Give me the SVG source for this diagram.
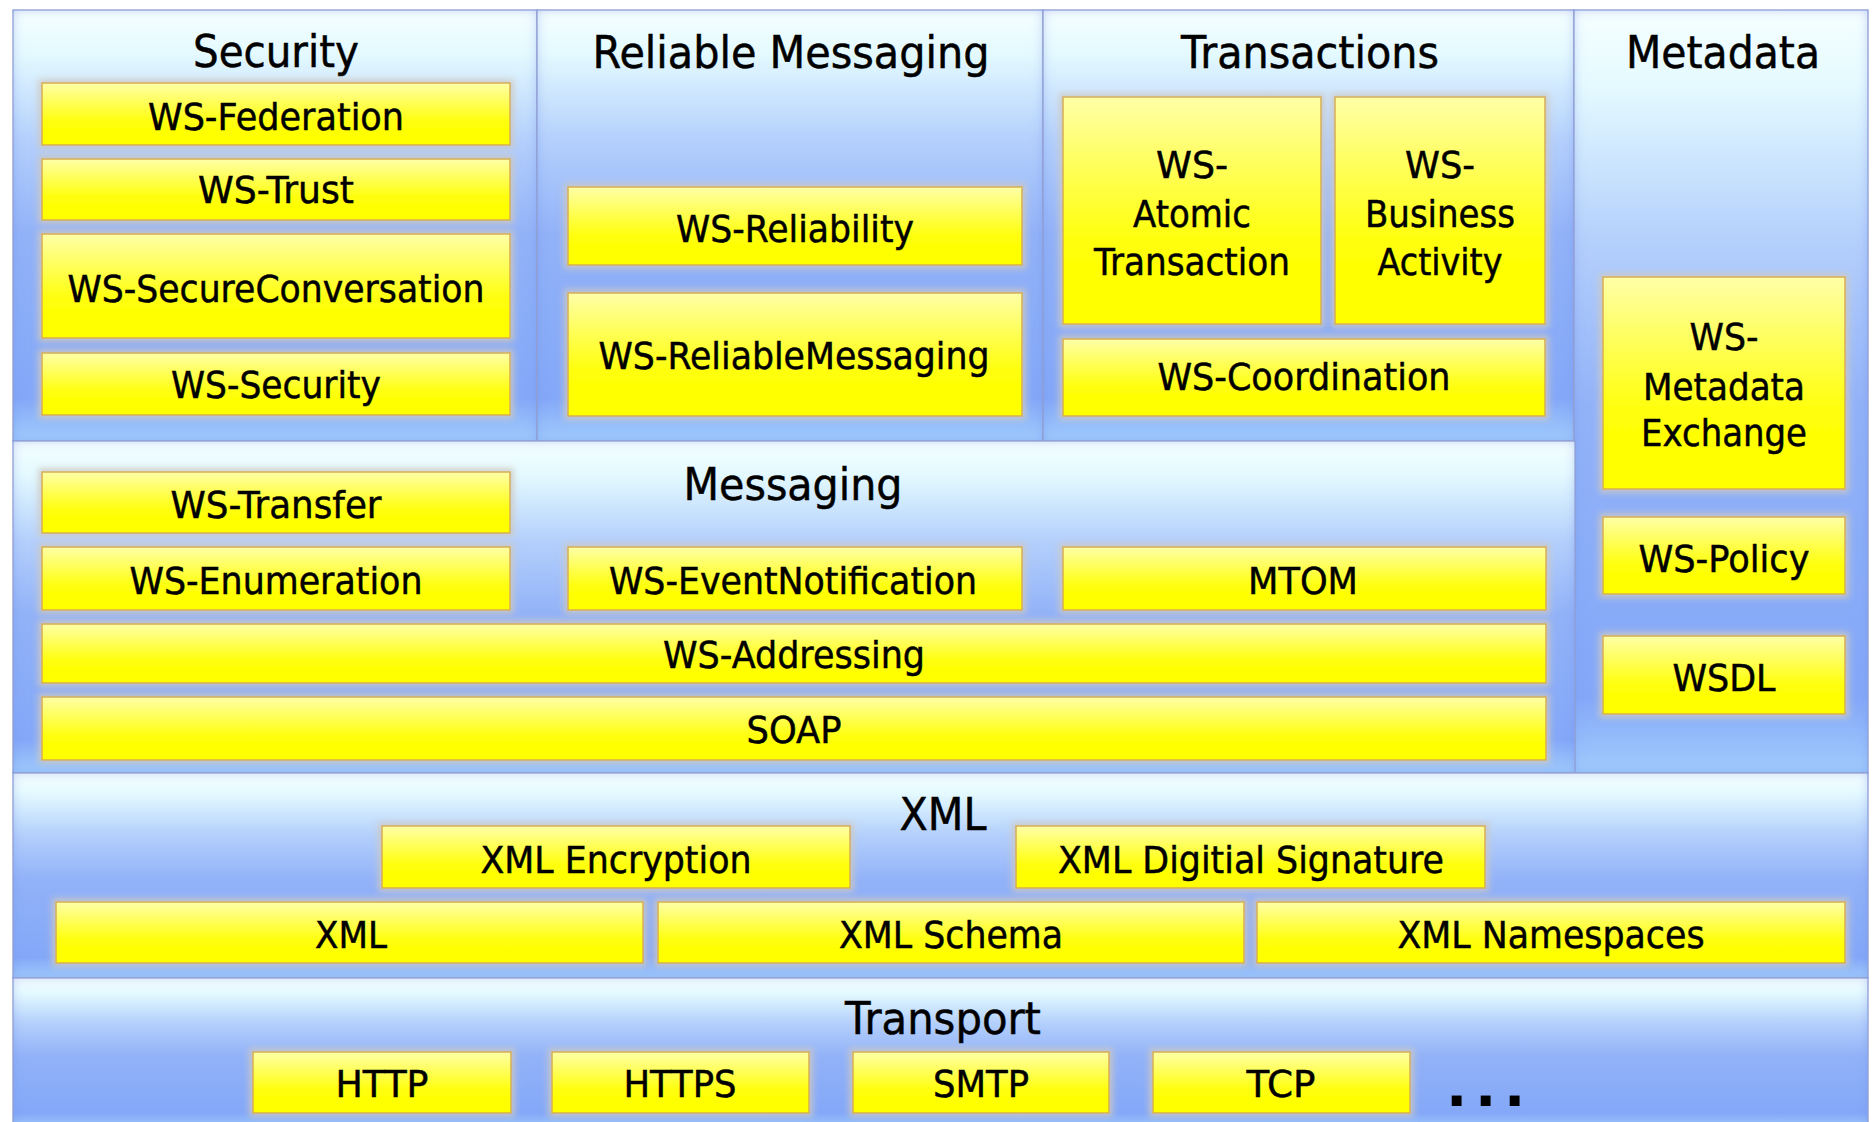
<svg xmlns="http://www.w3.org/2000/svg" width="1874" height="1122" viewBox="0 0 1874 1122">
<defs>
  <linearGradient id="panelGrad" x1="0" y1="0" x2="0" y2="1">
    <stop offset="0" stop-color="#f6ffff"/>
    <stop offset="0.1" stop-color="#e4faff"/>
    <stop offset="0.3" stop-color="#b4d0fc"/>
    <stop offset="0.52" stop-color="#92b2f8"/>
    <stop offset="0.9" stop-color="#84a8f8"/>
    <stop offset="1" stop-color="#a0ccfc"/>
  </linearGradient>
  <linearGradient id="boxGrad" x1="0" y1="0" x2="0" y2="1">
    <stop offset="0" stop-color="#ffffa8"/>
    <stop offset="0.38" stop-color="#ffff48"/>
    <stop offset="0.65" stop-color="#ffff08"/>
    <stop offset="1" stop-color="#ffff00"/>
  </linearGradient>
  <filter id="inner" x="-5%" y="-5%" width="110%" height="110%">
    <feFlood flood-color="#7494ee" flood-opacity="0.6"/>
    <feComposite in2="SourceAlpha" operator="out"/>
    <feGaussianBlur stdDeviation="6"/>
    <feComposite in2="SourceAlpha" operator="in" result="sh"/>
    <feMerge><feMergeNode in="SourceGraphic"/><feMergeNode in="sh"/></feMerge>
  </filter>
  <filter id="glow" x="-10%" y="-40%" width="120%" height="180%">
    <feMorphology in="SourceAlpha" operator="dilate" radius="3" result="d"/>
    <feGaussianBlur in="d" stdDeviation="3" result="b"/>
    <feFlood flood-color="#cfc9c0" flood-opacity="0.85"/>
    <feComposite in2="b" operator="in" result="g"/>
    <feMerge><feMergeNode in="g"/><feMergeNode in="SourceGraphic"/></feMerge>
  </filter>
</defs>
<style>
  .panel { fill: url(#panelGrad); stroke: #98a2c8; stroke-width: 1.2; filter: url(#inner); }
  .box { fill: url(#boxGrad); stroke: #d6ae52; stroke-width: 1.5; filter: url(#glow); }
  .t { font-family: "DejaVu Sans", "Liberation Sans", sans-serif; font-size: 38px; fill: #000; stroke: #000; stroke-width: 0.5; text-anchor: middle; }
  .h { font-family: "DejaVu Sans", "Liberation Sans", sans-serif; font-size: 44px; fill: #000; stroke: #000; stroke-width: 0.5; text-anchor: middle; }
  .dots { font-family: "DejaVu Sans", sans-serif; font-weight: bold; font-size: 56px; fill: #000; letter-spacing: 7.7px; }
</style>
<rect x="0" y="0" width="1874" height="1122" fill="#ffffff"/>

<!-- Panels -->
<g id="panel-security"><rect class="panel" x="13" y="10" width="524" height="431"/><text class="h" x="276" y="67" textLength="166" lengthAdjust="spacingAndGlyphs">Security</text></g>
<g id="panel-reliable"><rect class="panel" x="537" y="10" width="506" height="431"/><text class="h" x="791" y="68" textLength="397" lengthAdjust="spacingAndGlyphs">Reliable Messaging</text></g>
<g id="panel-transactions"><rect class="panel" x="1043" y="10" width="531" height="431"/><text class="h" x="1310" y="68" textLength="258" lengthAdjust="spacingAndGlyphs">Transactions</text></g>
<g id="panel-metadata"><rect class="panel" x="1574" y="10" width="294" height="763"/><text class="h" x="1723" y="68" textLength="194" lengthAdjust="spacingAndGlyphs">Metadata</text></g>
<g id="panel-messaging"><rect class="panel" x="13" y="441" width="1562" height="332"/><text class="h" x="793" y="500" textLength="219" lengthAdjust="spacingAndGlyphs">Messaging</text></g>
<g id="panel-xml"><rect class="panel" x="13" y="773" width="1855" height="205"/><text class="h" x="943" y="830" textLength="87" lengthAdjust="spacingAndGlyphs">XML</text></g>
<g id="panel-transport"><rect class="panel" x="13" y="978" width="1855" height="150"/><text class="h" x="943" y="1034" textLength="196" lengthAdjust="spacingAndGlyphs">Transport</text></g>

<!-- Security -->
<g id="ws-federation"><rect class="box" x="42" y="83" width="468" height="62"/><text class="t" x="276" y="130" textLength="256" lengthAdjust="spacingAndGlyphs">WS-Federation</text></g>
<g id="ws-trust"><rect class="box" x="42" y="159" width="468" height="61"/><text class="t" x="276" y="203" textLength="156" lengthAdjust="spacingAndGlyphs">WS-Trust</text></g>
<g id="ws-secureconversation"><rect class="box" x="42" y="234" width="468" height="104"/><text class="t" x="276" y="302" textLength="417" lengthAdjust="spacingAndGlyphs">WS-SecureConversation</text></g>
<g id="ws-security"><rect class="box" x="42" y="353" width="468" height="62"/><text class="t" x="276" y="398" textLength="210" lengthAdjust="spacingAndGlyphs">WS-Security</text></g>

<!-- Reliable Messaging -->
<g id="ws-reliability"><rect class="box" x="568" y="187" width="454" height="78"/><text class="t" x="795" y="242" textLength="238" lengthAdjust="spacingAndGlyphs">WS-Reliability</text></g>
<g id="ws-reliablemessaging"><rect class="box" x="568" y="293" width="454" height="123"/><text class="t" x="794" y="369" textLength="391" lengthAdjust="spacingAndGlyphs">WS-ReliableMessaging</text></g>

<!-- Transactions -->
<g id="ws-atomictransaction"><rect class="box" x="1063" y="97" width="258" height="227"/>
  <text class="t" x="1192" y="178" textLength="72" lengthAdjust="spacingAndGlyphs">WS-</text>
  <text class="t" x="1192" y="227" textLength="118" lengthAdjust="spacingAndGlyphs">Atomic</text>
  <text class="t" x="1192" y="275" textLength="196" lengthAdjust="spacingAndGlyphs">Transaction</text></g>
<g id="ws-businessactivity"><rect class="box" x="1335" y="97" width="210" height="227"/>
  <text class="t" x="1440" y="178" textLength="70" lengthAdjust="spacingAndGlyphs">WS-</text>
  <text class="t" x="1440" y="227" textLength="150" lengthAdjust="spacingAndGlyphs">Business</text>
  <text class="t" x="1440" y="275" textLength="125" lengthAdjust="spacingAndGlyphs">Activity</text></g>
<g id="ws-coordination"><rect class="box" x="1063" y="339" width="482" height="77"/><text class="t" x="1304" y="390" textLength="293" lengthAdjust="spacingAndGlyphs">WS-Coordination</text></g>

<!-- Metadata -->
<g id="ws-metadataexchange"><rect class="box" x="1603" y="277" width="242" height="212"/>
  <text class="t" x="1724" y="350" textLength="69" lengthAdjust="spacingAndGlyphs">WS-</text>
  <text class="t" x="1724" y="400" textLength="162" lengthAdjust="spacingAndGlyphs">Metadata</text>
  <text class="t" x="1724" y="446" textLength="166" lengthAdjust="spacingAndGlyphs">Exchange</text></g>
<g id="ws-policy"><rect class="box" x="1603" y="517" width="242" height="77"/><text class="t" x="1724" y="572" textLength="171" lengthAdjust="spacingAndGlyphs">WS-Policy</text></g>
<g id="wsdl"><rect class="box" x="1603" y="636" width="242" height="78"/><text class="t" x="1724" y="691" textLength="103" lengthAdjust="spacingAndGlyphs">WSDL</text></g>

<!-- Messaging -->
<g id="ws-transfer"><rect class="box" x="42" y="472" width="468" height="61"/><text class="t" x="276" y="518" textLength="211" lengthAdjust="spacingAndGlyphs">WS-Transfer</text></g>
<g id="ws-enumeration"><rect class="box" x="42" y="547" width="468" height="63"/><text class="t" x="276" y="594" textLength="293" lengthAdjust="spacingAndGlyphs">WS-Enumeration</text></g>
<g id="ws-eventnotification"><rect class="box" x="568" y="547" width="454" height="63"/><text class="t" x="793" y="594" textLength="368" lengthAdjust="spacingAndGlyphs">WS-EventNotification</text></g>
<g id="mtom"><rect class="box" x="1063" y="547" width="483" height="63"/><text class="t" x="1303" y="594" textLength="110" lengthAdjust="spacingAndGlyphs">MTOM</text></g>
<g id="ws-addressing"><rect class="box" x="42" y="624" width="1504" height="59"/><text class="t" x="794" y="668" textLength="262" lengthAdjust="spacingAndGlyphs">WS-Addressing</text></g>
<g id="soap"><rect class="box" x="42" y="697" width="1504" height="63"/><text class="t" x="794" y="743" textLength="95" lengthAdjust="spacingAndGlyphs">SOAP</text></g>

<!-- XML -->
<g id="xml-encryption"><rect class="box" x="382" y="826" width="468" height="62"/><text class="t" x="616" y="873" textLength="271" lengthAdjust="spacingAndGlyphs">XML Encryption</text></g>
<g id="xml-digitalsignature"><rect class="box" x="1016" y="826" width="469" height="62"/><text class="t" x="1251" y="873" textLength="386" lengthAdjust="spacingAndGlyphs">XML Digitial Signature</text></g>
<g id="xml"><rect class="box" x="56" y="902" width="587" height="61"/><text class="t" x="351" y="948" textLength="72" lengthAdjust="spacingAndGlyphs">XML</text></g>
<g id="xml-schema"><rect class="box" x="658" y="902" width="586" height="61"/><text class="t" x="951" y="948" textLength="224" lengthAdjust="spacingAndGlyphs">XML Schema</text></g>
<g id="xml-namespaces"><rect class="box" x="1257" y="902" width="588" height="61"/><text class="t" x="1551" y="948" textLength="307" lengthAdjust="spacingAndGlyphs">XML Namespaces</text></g>

<!-- Transport -->
<g id="http"><rect class="box" x="253" y="1052" width="258" height="61"/><text class="t" x="382" y="1097" textLength="93" lengthAdjust="spacingAndGlyphs">HTTP</text></g>
<g id="https"><rect class="box" x="552" y="1052" width="257" height="61"/><text class="t" x="680" y="1097" textLength="113" lengthAdjust="spacingAndGlyphs">HTTPS</text></g>
<g id="smtp"><rect class="box" x="853" y="1052" width="256" height="61"/><text class="t" x="981" y="1097" textLength="96" lengthAdjust="spacingAndGlyphs">SMTP</text></g>
<g id="tcp"><rect class="box" x="1153" y="1052" width="257" height="61"/><text class="t" x="1281" y="1097" textLength="69" lengthAdjust="spacingAndGlyphs">TCP</text></g>
<g id="more"><text class="dots" x="1446" y="1106">...</text></g>

<g id="connectors"></g>
</svg>
